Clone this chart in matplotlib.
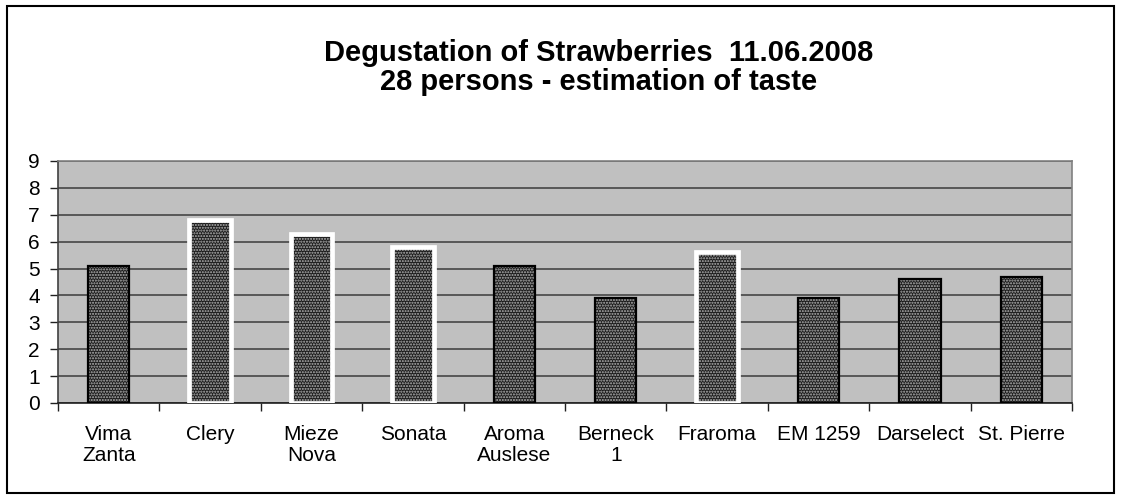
import matplotlib
matplotlib.use("Agg")
import matplotlib.pyplot as plt
from matplotlib.patches import Rectangle

plt.rcParams['font.family'] = ['Liberation Sans', 'DejaVu Sans']

varieties = ['Vima\nZanta', 'Clery', 'Mieze\nNova', 'Sonata', 'Aroma\nAuslese',
             'Berneck\n1', 'Fraroma', 'EM 1259', 'Darselect', 'St. Pierre']
scores = [5.1, 6.8, 6.3, 5.8, 5.1, 3.9, 5.6, 3.9, 4.6, 4.7]
# bars outlined in white in the original sheet
highlighted = ['Clery', 'Mieze\nNova', 'Sonata', 'Fraroma']

fig = plt.figure(figsize=(11.22, 4.95), dpi=100)
ax = fig.add_axes([58/1122, 92/495, 1014/1122, 242/495])
ax.set_facecolor('#c0c0c0')

x = list(range(len(varieties)))
bw = 0.41

# dotted fill
ax.bar(x, scores, width=bw, color='#1c1c1c', edgecolor='#b4b4b4',
       hatch='......', linewidth=0, zorder=2)
# outlines
for xi, name, s in zip(x, varieties, scores):
    if name in highlighted:
        ax.bar(xi, s, width=bw, fill=False, edgecolor='white', linewidth=3.4, zorder=3)
    else:
        ax.bar(xi, s, width=bw, fill=False, edgecolor='black', linewidth=1.6, zorder=3)

ax.set_ylim(0, 9)
ax.set_xlim(-0.5, len(varieties) - 0.5)
ax.set_yticks(range(0, 10))
ax.yaxis.grid(True, color='#3c3c3c', linewidth=1.1)
ax.set_axisbelow(True)

ax.set_xticks([i - 0.5 for i in range(len(varieties) + 1)])
ax.set_xticklabels([])
ax.set_xticks(x, minor=True)
ax.set_xticklabels(varieties, minor=True, linespacing=1.1)
ax.tick_params(axis='x', which='minor', length=0, pad=16, labelsize=15)
ax.tick_params(axis='x', which='major', length=6, width=1, color='#202020', direction='out')
ax.tick_params(axis='y', length=6, width=1, color='#202020', pad=7, labelsize=15)

ax.spines['left'].set_color('#404040')
ax.spines['bottom'].set_color('#202020')
ax.spines['top'].set_color('#808080')
ax.spines['right'].set_color('#808080')
for sp in ax.spines.values():
    sp.set_linewidth(1.2)

fig.text(599/1122, 1 - 39/495, 'Degustation of Strawberries  11.06.2008\n28 persons - estimation of taste',
         ha='center', va='top', fontsize=21, fontweight='bold', linespacing=1.05)

fig.patches.append(Rectangle((7/1122, 2/495), 1107/1122, 487/495, transform=fig.transFigure,
                             fill=False, edgecolor='black', linewidth=1.5))

fig.savefig('out.png', dpi=100)
